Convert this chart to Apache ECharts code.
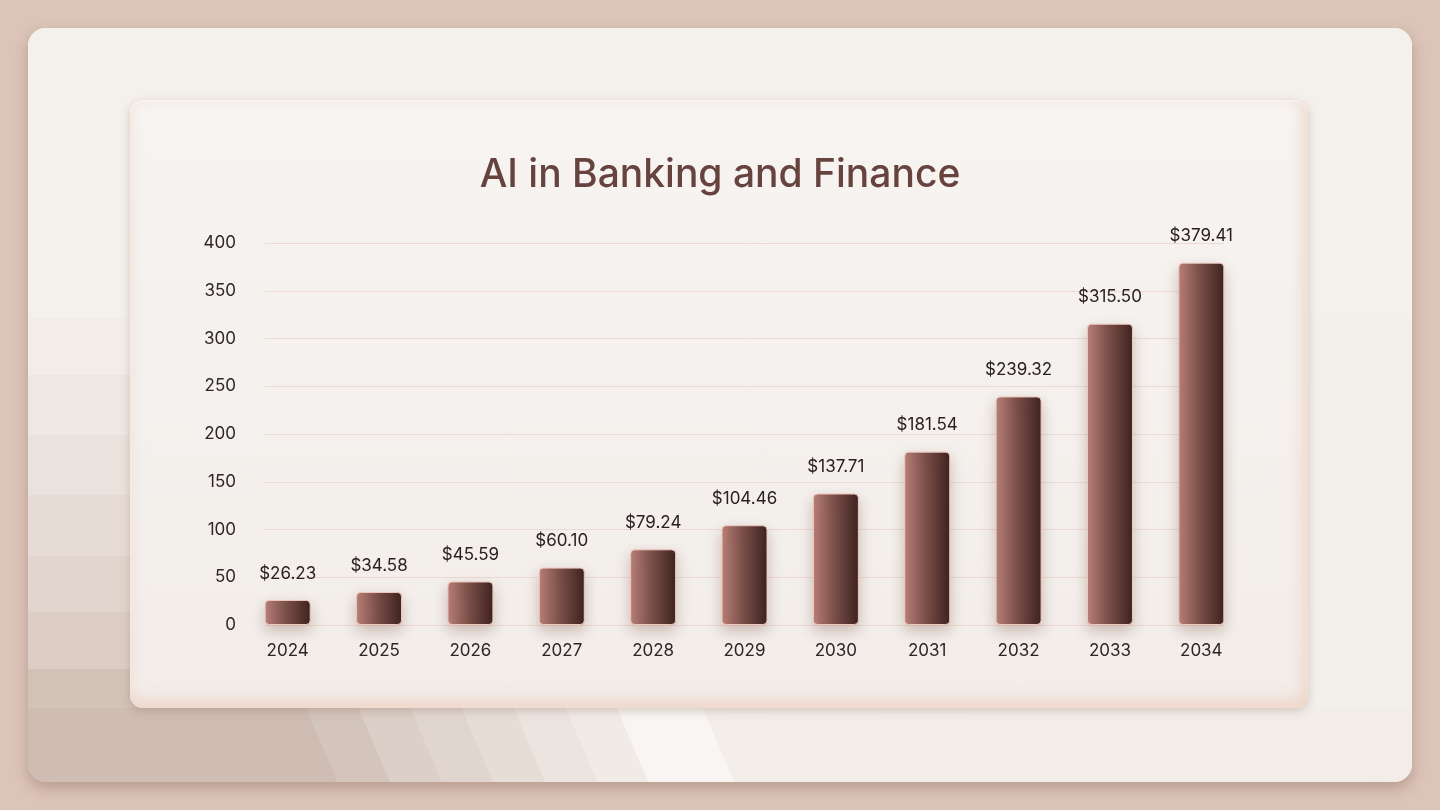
<!DOCTYPE html>
<html>
<head>
<meta charset="utf-8">
<style type="text/css">
html, body {margin: 0; padding: 0; width: 1440px; height: 810px; overflow: hidden;}
body {background: #dcc4b8; position: relative; font-family: Inter, sans-serif;}
.panel {position: absolute; left: 28px; top: 28px; width: 1384px; height: 754px; border-radius: 18px;
    background: linear-gradient(180deg, #f4f0ec 0%, #f4f0ec 38%, #f2ede9 38%, #f2ede9 46%, #eee7e2 46%, #eee7e2 54%, #eae2dc 54%, #eae2dc 62%, #e6dcd5 62%, #e6dcd5 70%, #e2d5cd 70%, #e2d5cd 77.5%, #dccec5 77.5%, #dccec5 85%, #d2c2b8 85%, #d2c2b8 100%);
    box-shadow: 0 6px 14px rgba(120, 80, 70, 0.35); overflow: hidden;}
.panel .top {position: absolute; left: 0; top: 0; right: 0; height: 290px; background: #f4f0ec;}
.panel .right {position: absolute; left: 1250px; top: 290px; right: 0; bottom: 0; background: #f3efeb;}
.panel .bottom {position: absolute; left: 0; right: 0; top: 680px; bottom: 0;
    background: linear-gradient(67deg, #cfbdb3 0px, #cfbdb3 285px, #d4c5bc 285px, #d4c5bc 333px, #dbcfc7 333px, #dbcfc7 381px, #e1d6cf 381px, #e1d6cf 428px, #e7ddd7 428px, #e7ddd7 476px, #ece4df 476px, #ece4df 524px, #f1ebe7 524px, #f1ebe7 571px, #f8f5f2 571px, #f8f5f2 650px, #f3eeea 650px, #f2ede9 100%);}
.card {position: absolute; left: 130px; top: 100px; width: 1178px; height: 608px; border-radius: 13px;
    background: linear-gradient(180deg, #f7f4f1 0%, #f2ede9 100%);
    box-shadow: 0 3px 10px rgba(120, 80, 70, 0.25), inset 0 -10px 14px rgba(238, 205, 190, 0.55), inset -8px 0 12px rgba(238, 210, 196, 0.45), inset 0 2px 3px #ffffff;}
#main {position: absolute; left: 0; top: 0; width: 1440px; height: 810px;}
</style>
</head>
<body>
<div class="panel"><div class="top"></div><div class="right"></div><div class="bottom"></div></div>
<div class="card"></div>
<div id="main"></div>
<script src="https://cdn.jsdelivr.net/npm/echarts@6/dist/echarts.min.js"></script>
<script type="text/javascript">
var years = ['2024', '2025', '2026', '2027', '2028', '2029', '2030', '2031', '2032', '2033', '2034'];
var marketSize = [26.23, 34.58, 45.59, 60.10, 79.24, 104.46, 137.71, 181.54, 239.32, 315.50, 379.41];
var yTicks = [0, 50, 100, 150, 200, 250, 300, 350, 400];

var chart = echarts.init(document.getElementById('main'));

// mostly left-to-right shading, like the reference bars
var barColor = new echarts.graphic.LinearGradient(0, 0, 1, 0, [
    {offset: 0, color: '#b98179'},
    {offset: 0.45, color: '#7d514b'},
    {offset: 1, color: '#3d2220'}
]);

var option = {
    backgroundColor: 'transparent',
    title: {
        text: 'AI in Banking and Finance',
        left: 'center',
        top: 151,
        textStyle: {
            fontFamily: 'Inter',
            fontSize: 39,
            fontWeight: 500,
            color: '#67433f'
        }
    },
    grid: [
        {left: 242, right: 193, top: 243, bottom: 185},
        {left: 265, right: 216, top: 243, bottom: 185}
    ],
    xAxis: [
        {
            type: 'category',
            gridIndex: 0,
            data: years,
            axisLine: {show: false},
            axisTick: {show: false},
            axisLabel: {
                margin: 17,
                fontFamily: 'Inter, sans-serif',
                fontSize: 17,
                color: '#2e2626'
            }
        },
        {type: 'category', gridIndex: 1, data: years, show: false}
    ],
    yAxis: [
        {
            type: 'value',
            gridIndex: 0,
            min: yTicks[0],
            max: yTicks[yTicks.length - 1],
            interval: 50,
            splitLine: {show: false},
            axisLine: {show: false},
            axisTick: {show: false},
            axisLabel: {
                margin: 6,
                fontFamily: 'Inter, sans-serif',
                fontSize: 17,
                color: '#2e2626'
            }
        },
        {
            type: 'value',
            gridIndex: 1,
            min: yTicks[0],
            max: yTicks[yTicks.length - 1],
            interval: 50,
            axisLine: {show: false},
            axisTick: {show: false},
            axisLabel: {show: false},
            splitLine: {lineStyle: {color: '#ecd9d2', width: 1}}
        }
    ],
    series: [
        {
            name: 'AI in Banking and Finance',
            type: 'bar',
            xAxisIndex: 0,
            yAxisIndex: 0,
            data: marketSize,
            barWidth: 46,
            itemStyle: {
                color: barColor,
                borderRadius: 4,
                borderColor: '#efc9bd',
                borderWidth: 1,
                shadowColor: 'rgba(110, 60, 50, 0.28)',
                shadowBlur: 14,
                shadowOffsetY: 6
            },
            label: {
                show: true,
                position: 'top',
                distance: 18,
                fontFamily: 'Inter, sans-serif',
                fontSize: 17,
                color: '#2a2020',
                formatter: function (p) {
                    return '$' + p.value.toFixed(2);
                }
            }
        }
    ]
};
chart.setOption(option);
</script>
</body>
</html>
